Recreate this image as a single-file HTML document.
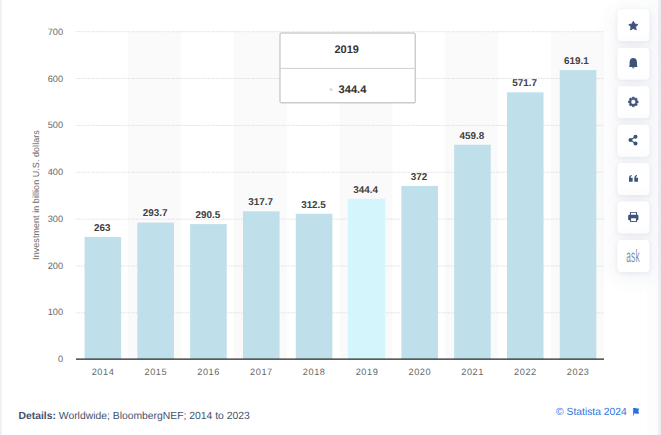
<!DOCTYPE html>
<html><head><meta charset="utf-8"><title>Statista chart</title>
<style>
html,body{margin:0;padding:0;}
body{width:661px;height:435px;position:relative;overflow:hidden;background:#fff;font-family:"Liberation Sans",sans-serif;text-rendering:geometricPrecision;}
.abs{position:absolute;}
.band{position:absolute;background:#fafafa;}
.grid{position:absolute;height:1px;background:repeating-linear-gradient(to right,#e3e3e3 0,#e3e3e3 2px,#efefef 2px,#efefef 3.2px,#e6e6e6 3.2px,#e6e6e6 4px,#f1f1f1 4px,#f1f1f1 5px);}
.bar{position:absolute;background:#bfe0eb;}
.bar.hl{background:#d4f5fb;}
.yl{position:absolute;width:40px;text-align:right;font-size:9.2px;line-height:10px;color:#666;}
.xl{position:absolute;width:52px;text-align:center;font-size:9.2px;line-height:10px;color:#666;letter-spacing:0.55px;}
.dl{position:absolute;width:52px;text-align:center;font-size:9.9px;line-height:12px;font-weight:bold;color:#404040;text-shadow:0 0 1px #fff,0 0 1px #fff;}
.btn{position:absolute;left:617px;width:31.9px;height:31.5px;border-radius:4px;background:#fff;box-shadow:0 3px 22px rgba(60,80,130,0.10),0 1px 4px rgba(60,80,130,0.07);}
.btn svg{position:absolute;}
</style></head><body>
<div class="abs" style="left:0;top:0;width:2px;height:435px;background:#eff1f5;"></div>
<div class="abs" style="left:647px;top:0;width:14px;height:435px;background:linear-gradient(to right,#fcfdfd 0,#fcfdfd 10.6px,#eceef3 11.8px,#eceef3 100%);"></div>

<svg class="abs" style="left:0;top:0" width="661" height="435" viewBox="0 0 661 435">
<defs><pattern id="dash" x="76" y="0" width="5" height="1" patternUnits="userSpaceOnUse"><rect x="0" y="0" width="5" height="1" fill="#ececec"/><rect x="0" y="0" width="2" height="1" fill="#e0e0e0"/><rect x="3" y="0" width="1" height="1" fill="#e4e4e4"/></pattern></defs>
<rect x="128.11" y="31.70" width="52.9" height="327.70" fill="#fafafa"/>
<rect x="233.83" y="31.70" width="52.9" height="327.70" fill="#fafafa"/>
<rect x="339.55" y="31.70" width="52.9" height="327.70" fill="#fafafa"/>
<rect x="445.27" y="31.70" width="52.9" height="327.70" fill="#fafafa"/>
<rect x="550.99" y="31.70" width="52.9" height="327.70" fill="#fafafa"/>
<line x1="76.0" y1="312.84" x2="604.0" y2="312.84" stroke="#dfdfdf" stroke-width="1" stroke-dasharray="1.3 0.7 0.8 0.5 0.8 0.9"/>
<line x1="76.0" y1="265.99" x2="604.0" y2="265.99" stroke="#dfdfdf" stroke-width="1" stroke-dasharray="1.3 0.7 0.8 0.5 0.8 0.9"/>
<line x1="76.0" y1="219.13" x2="604.0" y2="219.13" stroke="#dfdfdf" stroke-width="1" stroke-dasharray="1.3 0.7 0.8 0.5 0.8 0.9"/>
<line x1="76.0" y1="172.27" x2="604.0" y2="172.27" stroke="#dfdfdf" stroke-width="1" stroke-dasharray="1.3 0.7 0.8 0.5 0.8 0.9"/>
<line x1="76.0" y1="125.41" x2="604.0" y2="125.41" stroke="#dfdfdf" stroke-width="1" stroke-dasharray="1.3 0.7 0.8 0.5 0.8 0.9"/>
<line x1="76.0" y1="78.56" x2="604.0" y2="78.56" stroke="#dfdfdf" stroke-width="1" stroke-dasharray="1.3 0.7 0.8 0.5 0.8 0.9"/>
<line x1="76.0" y1="31.70" x2="604.0" y2="31.70" stroke="#dfdfdf" stroke-width="1" stroke-dasharray="1.3 0.7 0.8 0.5 0.8 0.9"/>
<rect x="84.55" y="236.97" width="36.6" height="122.23" fill="#bfe0eb"/>
<rect x="137.35" y="222.58" width="36.6" height="136.62" fill="#bfe0eb"/>
<rect x="190.15" y="224.08" width="36.6" height="135.12" fill="#bfe0eb"/>
<rect x="242.95" y="211.33" width="36.6" height="147.87" fill="#bfe0eb"/>
<rect x="295.75" y="213.77" width="36.6" height="145.43" fill="#bfe0eb"/>
<rect x="347.90" y="198.82" width="37.3" height="160.38" fill="#d4f5fb"/>
<rect x="401.35" y="185.89" width="36.6" height="173.31" fill="#bfe0eb"/>
<rect x="454.15" y="144.75" width="36.6" height="214.45" fill="#bfe0eb"/>
<rect x="506.95" y="92.32" width="36.6" height="266.88" fill="#bfe0eb"/>
<rect x="559.75" y="70.11" width="36.6" height="289.09" fill="#bfe0eb"/>
<line x1="76.0" y1="359.05" x2="604.0" y2="359.05" stroke="#242424" stroke-width="1.15"/>
</svg>
<div class="yl" style="left:23px;top:354.2px;">0</div>
<div class="yl" style="left:23px;top:307.4px;">100</div>
<div class="yl" style="left:23px;top:260.7px;">200</div>
<div class="yl" style="left:23px;top:213.9px;">300</div>
<div class="yl" style="left:23px;top:167.2px;">400</div>
<div class="yl" style="left:23px;top:120.4px;">500</div>
<div class="yl" style="left:23px;top:73.7px;">600</div>
<div class="yl" style="left:23px;top:26.9px;">700</div>
<div class="dl" style="left:76.3px;top:222.7px;">263</div>
<div class="xl" style="left:77.0px;top:367.3px;">2014</div>
<div class="dl" style="left:129.1px;top:208.3px;">293.7</div>
<div class="xl" style="left:129.8px;top:367.3px;">2015</div>
<div class="dl" style="left:181.9px;top:209.8px;">290.5</div>
<div class="xl" style="left:182.6px;top:367.3px;">2016</div>
<div class="dl" style="left:234.7px;top:197.0px;">317.7</div>
<div class="xl" style="left:235.4px;top:367.3px;">2017</div>
<div class="dl" style="left:287.5px;top:199.5px;">312.5</div>
<div class="xl" style="left:288.2px;top:367.3px;">2018</div>
<div class="dl" style="left:339.7px;top:184.5px;">344.4</div>
<div class="xl" style="left:341.0px;top:367.3px;">2019</div>
<div class="dl" style="left:393.1px;top:171.6px;">372</div>
<div class="xl" style="left:393.8px;top:367.3px;">2020</div>
<div class="dl" style="left:445.9px;top:130.5px;">459.8</div>
<div class="xl" style="left:446.6px;top:367.3px;">2021</div>
<div class="dl" style="left:498.7px;top:78.0px;">571.7</div>
<div class="xl" style="left:499.4px;top:367.3px;">2022</div>
<div class="dl" style="left:550.4px;top:55.8px;">619.1</div>
<div class="xl" style="left:552.2px;top:367.3px;">2023</div>
<div class="abs" id="ytitle" style="left:36.1px;top:195.2px;width:0;height:0;"><div style="position:absolute;white-space:nowrap;font-size:9.0px;line-height:10px;color:#6c6c6c;transform:translate(-50%,-50%) rotate(-90deg);letter-spacing:0.05px;">Investment in billion U.S. dollars</div></div>
<svg class="abs" style="left:270px;top:25px;overflow:visible" width="160" height="90" viewBox="270 25 160 90">
<rect x="280.5" y="33.7" width="135.2" height="69.8" rx="1.2" fill="rgba(0,0,0,0.06)"/>
<rect x="280" y="33" width="135.2" height="69.8" rx="1" fill="#fff" stroke="#b8b8b8" stroke-width="1"/>
<line x1="280.5" y1="68.4" x2="414.7" y2="68.4" stroke="#cdcdcd" stroke-width="1"/>
<circle cx="331" cy="89.6" r="1.5" fill="#bfe0eb"/>
</svg>
<div class="abs" style="left:279.4px;top:44px;width:134.6px;text-align:center;font-size:11px;line-height:12px;font-weight:bold;color:#333;">2019</div>
<div class="abs" style="left:338.6px;top:84.4px;font-size:11.1px;line-height:12px;font-weight:bold;color:#333;">344.4</div>
<div class="btn" style="top:9px;transform:translate(0.4px,0.20px);"></div>
<div class="btn" style="top:47px;transform:translate(0.4px,0.68px);"></div>
<div class="btn" style="top:86px;transform:translate(0.4px,0.16px);"></div>
<div class="btn" style="top:124px;transform:translate(0.4px,0.64px);"></div>
<div class="btn" style="top:163px;transform:translate(0.4px,0.12px);"></div>
<div class="btn" style="top:201px;transform:translate(0.4px,0.60px);"></div>
<div class="btn" style="top:240px;transform:translate(0.4px,0.08px);"></div>
<svg class="abs" style="left:0;top:0;z-index:3" width="661" height="435" viewBox="0 0 661 435">
<polygon points="633.35,21.20 634.76,24.06 637.92,24.52 635.63,26.74 636.17,29.88 633.35,28.40 630.53,29.88 631.07,26.74 628.78,24.52 631.94,24.06" fill="#3d5478" stroke="#3d5478" stroke-width="0.9" stroke-linejoin="round"/>
<path transform="translate(633.3,58.1)" fill="#3d5478" d="M-4.2 8.9C-3.6 7.6-3.7 6-3.7 4.1C-3.7 1.6-2.2 0 0 0C2.2 0 3.7 1.6 3.7 4.1C3.7 6 3.6 7.6 4.2 8.9Z"/>
<ellipse cx="633.3" cy="67.8" rx="1.3" ry="0.8" fill="#3d5478" opacity="0.75"/>
<path d="M632.13,98.13 L632.45,96.97 L634.15,96.97 L634.47,98.13 L635.14,98.41 L636.19,97.82 L637.38,99.01 L636.79,100.06 L637.07,100.73 L638.23,101.05 L638.23,102.75 L637.07,103.07 L636.79,103.74 L637.38,104.79 L636.19,105.98 L635.14,105.39 L634.47,105.67 L634.15,106.83 L632.45,106.83 L632.13,105.67 L631.46,105.39 L630.41,105.98 L629.22,104.79 L629.81,103.74 L629.53,103.07 L628.37,102.75 L628.37,101.05 L629.53,100.73 L629.81,100.06 L629.22,99.01 L630.41,97.82 L631.46,98.41Z M635.65,101.90 A2.35 2.35 0 1 0 630.95,101.90 A2.35 2.35 0 1 0 635.65,101.90Z" fill="#3d5478" fill-rule="evenodd" stroke="#3d5478" stroke-width="0.5" stroke-linejoin="round"/>
<g fill="#3d5478"><circle cx="630.45" cy="140.1" r="2"/><circle cx="635.5" cy="136.8" r="2"/><circle cx="635.5" cy="143.45" r="2"/><path d="M635.5 136.8L630.45 140.1L635.5 143.45" fill="none" stroke="#3d5478" stroke-width="1.1"/></g>
<path transform="translate(629.0,175.05) scale(0.484)" fill="#3d5478" d="M0 6.500C0 2.800 2 .5 5.500 0v2C4 2.500 3.200 3.900 3.200 5.500H7.500V14H0zM11 6.500c0-3.700 2-6 5.500-6.500v2c-1.500.5-2.300 1.900-2.300 3.500h4.300V14H11z"/>
<g transform="translate(628.15,211.9)"><path fill="#3d5478" fill-rule="evenodd" d="M1.800 0H8.900V3.400H1.800ZM2.800 0.900V3.400H7.900V0.900Z"/><rect x="0" y="2.900" width="10.3" height="5.500" rx="1.200" fill="#3d5478"/><path fill="#3d5478" d="M1.900 6.100H8.900V10.050H1.900Z"/><rect x="2.900" y="6.400" width="4.900" height="2.750" fill="#fff"/></g>
</svg>
<div class="abs" style="left:612.9px;top:246.2px;width:40px;text-align:center;font-size:17.8px;line-height:20px;color:#8490a8;letter-spacing:0.6px;transform:scaleX(0.465);z-index:3;">ask</div>
<div class="abs" style="left:18.500px;top:409.8px;font-size:10.37px;line-height:13px;color:#42526c;white-space:nowrap;"><b>Details:</b> Worldwide; BloombergNEF; 2014 to 2023</div>
<div class="abs" id="copy" style="left:556px;top:406px;font-size:10.35px;line-height:13px;color:#2f78de;white-space:nowrap;">© Statista 2024</div>
<svg class="abs" style="left:633px;top:407.600px" width="7" height="8" viewBox="0 0 7 8"><path fill="#2471e4" d="M0 0H1V7.600H0Z" opacity="0.8"/><path fill="#2471e4" d="M0.800 0.200C2.400-0.200 3.600 0.900 6.200 0.500L5.300 3L6.200 5.600C3.800 6 2.600 5 0.800 5.700Z"/></svg>
</body></html>
